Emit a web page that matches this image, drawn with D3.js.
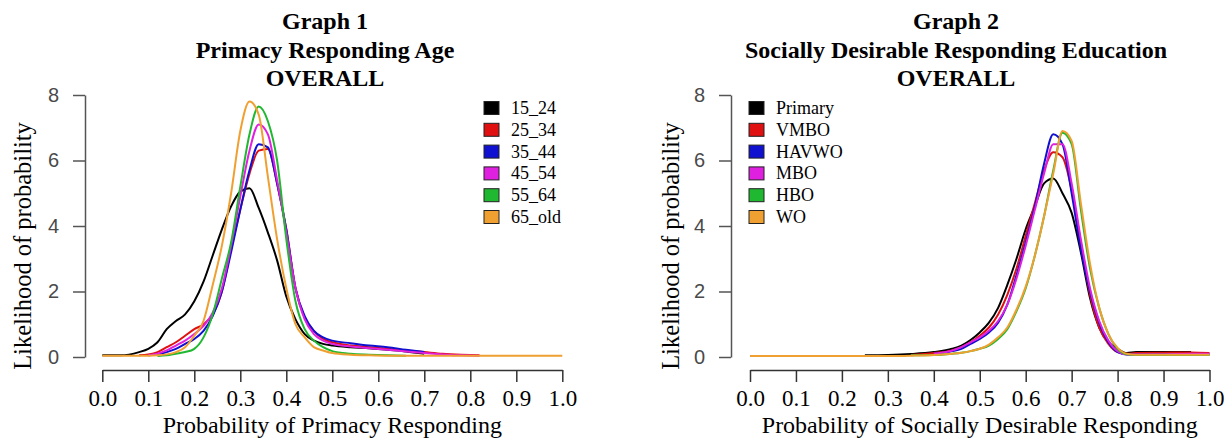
<!DOCTYPE html>
<html>
<head>
<meta charset="utf-8">
<script src="https://cdn.jsdelivr.net/npm/d3@7"></script>
<style>
  html, body { margin: 0; padding: 0; background: #fff; }
  svg { display: block; }
</style>
</head>
<body>
<svg id="chart" width="1229" height="440"></svg>
<script>
// ---------- DATA ----------
const xTicks = [0.0, 0.1, 0.2, 0.3, 0.4, 0.5, 0.6, 0.7, 0.8, 0.9, 1.0];
const yTicks = [0, 2, 4, 6, 8];

// Graph 1 : Primacy responding by age
const ageGroups = ["15_24", "25_34", "35_44", "45_54", "55_64", "65_old"];
const grid1 = [0.00, 0.04, 0.08, 0.10, 0.12, 0.14, 0.16, 0.18, 0.20, 0.22, 0.24, 0.26, 0.28, 0.30, 0.32, 0.34, 0.36, 0.38, 0.40, 0.42, 0.44, 0.46, 0.48, 0.50, 0.54, 0.58, 0.62, 0.66, 0.70, 0.74, 0.78, 0.82, 0.90, 1.00];
const age15_24 = [0.05, 0.05, 0.15, 0.25, 0.45, 0.85, 1.10, 1.30, 1.70, 2.30, 3.10, 3.90, 4.60, 5.05, 5.15, 4.55, 3.80, 2.95, 1.85, 1.15, 0.70, 0.50, 0.40, 0.35, 0.30, 0.27, 0.22, 0.17, 0.10, null, null, null, null, null];
const age25_34 = [null, null, 0.05, 0.08, 0.15, 0.30, 0.45, 0.65, 0.85, 1.00, 1.30, 2.00, 3.30, 4.50, 5.60, 6.30, 6.35, 5.30, 3.90, 2.10, 1.20, 0.80, 0.55, 0.45, 0.35, 0.30, 0.25, 0.20, 0.15, 0.10, 0.07, 0.05, null, null];
const age35_44 = [null, null, null, 0.05, 0.08, 0.15, 0.25, 0.40, 0.55, 0.80, 1.25, 2.00, 3.20, 4.50, 5.70, 6.50, 6.40, 5.30, 3.90, 2.10, 1.25, 0.80, 0.60, 0.50, 0.42, 0.35, 0.30, 0.22, 0.15, null, null, null, null, null];
const age45_54 = [null, null, null, 0.05, 0.10, 0.20, 0.35, 0.50, 0.70, 0.95, 1.35, 2.10, 3.40, 4.90, 6.30, 7.10, 6.80, 5.40, 3.80, 2.10, 1.15, 0.70, 0.50, 0.40, 0.32, 0.27, 0.22, 0.17, 0.12, 0.08, 0.05, 0.04, null, null];
const age55_64 = [null, null, null, null, 0.03, 0.05, 0.10, 0.15, 0.25, 0.60, 1.30, 2.40, 3.50, 5.20, 6.80, 7.65, 7.20, 6.00, 3.60, 1.70, 0.85, 0.50, 0.30, 0.18, 0.10, 0.07, 0.05, 0.04, null, null, null, null, null, null];
const age65_old = [0.04, 0.04, 0.04, 0.04, 0.05, 0.08, 0.15, 0.30, 0.65, 1.10, 2.20, 3.40, 5.00, 6.90, 7.80, 7.40, 5.50, 3.60, 2.10, 1.00, 0.60, 0.30, 0.20, 0.12, 0.07, 0.05, 0.04, 0.04, 0.04, 0.04, 0.04, 0.04, 0.04, 0.04];

// Graph 2 : Socially desirable responding by education
const eduGroups = ["Primary", "VMBO", "HAVWO", "MBO", "HBO", "WO"];
const grid2 = [0.00, 0.10, 0.20, 0.25, 0.30, 0.35, 0.40, 0.44, 0.46, 0.48, 0.50, 0.52, 0.54, 0.56, 0.58, 0.60, 0.62, 0.64, 0.66, 0.68, 0.70, 0.72, 0.74, 0.76, 0.78, 0.80, 0.82, 0.84, 0.90, 0.96, 1.00];
const eduPrimary = [null, null, null, 0.05, 0.06, 0.09, 0.15, 0.25, 0.35, 0.52, 0.75, 1.05, 1.50, 2.20, 3.00, 3.90, 4.60, 5.30, 5.45, 5.00, 4.40, 3.20, 1.80, 0.90, 0.45, 0.25, 0.12, 0.15, 0.15, 0.15, null];
const eduVMBO = [null, null, null, null, null, 0.06, 0.12, 0.20, 0.30, 0.45, 0.65, 0.90, 1.30, 1.90, 2.70, 3.70, 4.70, 5.70, 6.25, 6.10, 5.10, 3.50, 1.90, 0.90, 0.40, 0.15, 0.10, 0.12, 0.13, 0.14, 0.12];
const eduHAVWO = [null, null, null, null, null, null, 0.10, 0.18, 0.25, 0.40, 0.55, 0.75, 1.05, 1.60, 2.50, 3.50, 4.60, 5.90, 6.80, 6.50, 5.00, 3.30, 2.00, 1.05, 0.45, 0.15, 0.08, 0.08, 0.08, 0.08, 0.08];
const eduMBO = [null, null, null, null, null, null, 0.10, 0.20, 0.30, 0.45, 0.60, 0.80, 1.10, 1.60, 2.40, 3.40, 4.50, 5.60, 6.50, 6.50, 5.30, 3.60, 2.10, 1.10, 0.50, 0.18, 0.08, 0.08, 0.08, 0.10, 0.10];
const eduHBO = [null, null, null, null, null, 0.05, 0.06, 0.10, 0.13, 0.18, 0.25, 0.35, 0.55, 0.85, 1.40, 2.10, 3.10, 4.30, 5.70, 6.85, 6.50, 4.50, 2.70, 1.50, 0.70, 0.25, 0.08, 0.06, 0.06, 0.06, 0.06];
const eduWO = [0.03, 0.03, 0.03, 0.03, 0.03, 0.04, 0.06, 0.10, 0.13, 0.18, 0.25, 0.38, 0.60, 0.90, 1.45, 2.15, 3.10, 4.30, 5.60, 6.90, 6.60, 4.70, 2.85, 1.50, 0.70, 0.28, 0.10, 0.07, 0.07, 0.07, 0.07];

const seriesColors = ["#000000", "#e01010", "#1010d0", "#e020e0", "#20b830", "#f0a030"];

// ---------- DRAWING ----------
const svg = d3.select("#chart");
const serif = "'Liberation Serif', 'Times New Roman', serif";
const sans = "'Liberation Sans', Arial, sans-serif";

function drawPanel(cfg) {
  const g = svg.append("g");
  const x = d3.scaleLinear().domain([0, 1]).range(cfg.xRange);
  const y = d3.scaleLinear().domain([0, 8]).range([357, 95]);

  // titles
  cfg.title.forEach((t, i) => {
    g.append("text")
      .attr("x", cfg.titleX).attr("y", 29 + i * 28.5)
      .attr("text-anchor", "middle")
      .attr("font-family", serif).attr("font-weight", "bold")
      .attr("font-size", 24).attr("fill", "#000")
      .text(t);
  });

  // y axis
  const yAxis = g.append("g")
    .attr("transform", `translate(${cfg.yAxisX},0)`)
    .call(d3.axisLeft(y).tickValues(yTicks).tickSize(12).tickSizeOuter(0).tickPadding(14).tickFormat(d3.format("d")));
  yAxis.select(".domain").attr("stroke", "#555").attr("stroke-width", 1.5);
  yAxis.selectAll(".tick line").attr("stroke", "#555").attr("stroke-width", 1.5);
  yAxis.selectAll(".tick text").attr("font-family", sans).attr("font-size", 20).attr("fill", "#4a4a4a");

  // x axis
  const xAxis = g.append("g")
    .attr("transform", "translate(0,370)")
    .call(d3.axisBottom(x).tickValues(xTicks).tickSize(12).tickSizeOuter(0).tickPadding(8).tickFormat(d3.format(".1f")));
  xAxis.select(".domain").attr("stroke", "#333").attr("stroke-width", 1.5);
  xAxis.selectAll(".tick line").attr("stroke", "#333").attr("stroke-width", 1.5);
  xAxis.selectAll(".tick text").attr("font-family", serif).attr("font-size", 23).attr("fill", "#000");

  // axis titles
  g.append("text")
    .attr("x", (cfg.xRange[0] + cfg.xRange[1]) / 2).attr("y", 433)
    .attr("text-anchor", "middle")
    .attr("font-family", serif).attr("font-size", 24).attr("fill", "#000")
    .text(cfg.xTitle);
  g.append("text")
    .attr("transform", `translate(${cfg.yTitleX},246) rotate(-90)`)
    .attr("text-anchor", "middle")
    .attr("font-family", serif).attr("font-size", 24.5).attr("fill", "#000")
    .text("Likelihood of probability");

  // density lines
  const line = d3.line()
    .defined(d => d[1] !== null)
    .x(d => x(d[0])).y(d => y(d[1]))
    .curve(d3.curveMonotoneX);
  cfg.series.forEach((vals, i) => {
    const pts = cfg.grid.map((gx, j) => [gx, vals[j]]);
    g.append("path")
      .attr("d", line(pts))
      .attr("fill", "none")
      .attr("stroke", seriesColors[i])
      .attr("stroke-width", 2)
      .attr("stroke-linejoin", "round");
  });

  // legend
  const leg = g.append("g");
  cfg.names.forEach((name, i) => {
    const cy = 108 + i * 21.8;
    leg.append("rect")
      .attr("x", cfg.legendX).attr("y", cy - 6.5)
      .attr("width", 15).attr("height", 13)
      .attr("fill", seriesColors[i]).attr("stroke", "#222").attr("stroke-width", 1);
    leg.append("text")
      .attr("x", cfg.legendX + 27).attr("y", cy + 6)
      .attr("font-family", serif).attr("font-size", 18).attr("fill", "#000")
      .text(name);
  });
}

drawPanel({
  xRange: [102.3, 562.3],
  yAxisX: 85,
  titleX: 325,
  yTitleX: 31,
  legendX: 484,
  title: ["Graph 1", "Primacy Responding Age", "OVERALL"],
  xTitle: "Probability of Primacy Responding",
  names: ageGroups,
  grid: grid1,
  series: [age15_24, age25_34, age35_44, age45_54, age55_64, age65_old]
});

drawPanel({
  xRange: [750, 1209.5],
  yAxisX: 731,
  titleX: 956,
  yTitleX: 679,
  legendX: 749,
  title: ["Graph 2", "Socially Desirable Responding Education", "OVERALL"],
  xTitle: "Probability of Socially Desirable Responding",
  names: eduGroups,
  grid: grid2,
  series: [eduPrimary, eduVMBO, eduHAVWO, eduMBO, eduHBO, eduWO]
});
</script>
</body>
</html>
